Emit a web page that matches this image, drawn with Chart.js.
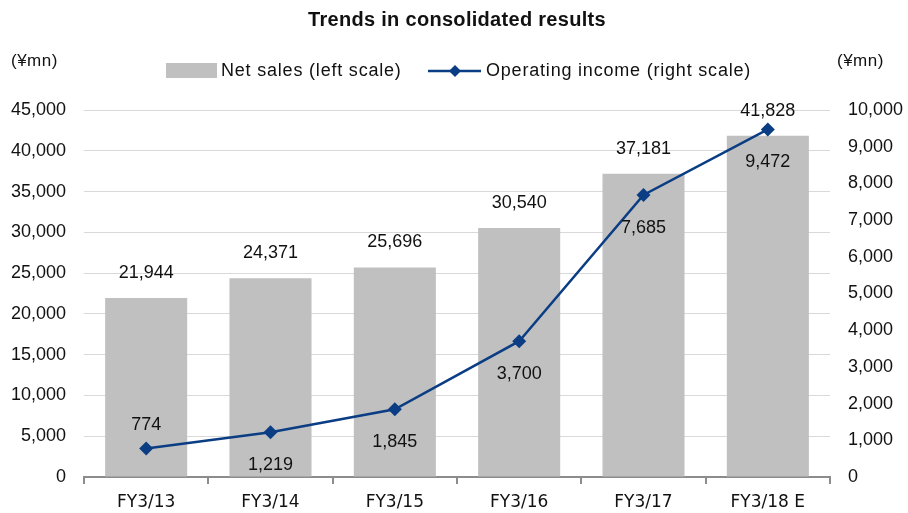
<!DOCTYPE html>
<html>
<head>
<meta charset="utf-8">
<script src="https://cdn.jsdelivr.net/npm/chart.js@4.4.1/dist/chart.umd.min.js"></script>
<style>
  html, body { margin: 0; padding: 0; background: #fff; }
  #wrap { width: 908px; height: 513px; }
</style>
</head>
<body>
<div id="wrap"><canvas id="myChart" width="908" height="513"></canvas></div>
<script>
const categories = ['FY3/13', 'FY3/14', 'FY3/15', 'FY3/16', 'FY3/17', 'FY3/18 E'];
const netSales = [21944, 24371, 25696, 30540, 37181, 41828];
const operatingIncome = [774, 1219, 1845, 3700, 7685, 9472];
// where each income label sits relative to its point
const incomeLabelSide = ['above', 'below', 'below', 'below', 'below', 'below'];

const barColor = '#c0c0c0';
const lineColor = '#0b3d84';
const fontFamily = "'Liberation Sans', Arial, sans-serif";

const fmt = v => v.toLocaleString('en-US');

const extras = {
  id: 'extras',
  afterDatasetsDraw(chart) {
    const c = chart.ctx;
    c.save();
    c.fillStyle = '#111';
    c.font = '18px ' + fontFamily;
    c.textAlign = 'center';
    c.textBaseline = 'middle';

    const barMeta = chart.getDatasetMeta(0);
    barMeta.data.forEach((el, i) => {
      c.fillText(fmt(netSales[i]), el.x, el.y - 25);
    });
    const lineMeta = chart.getDatasetMeta(1);
    lineMeta.data.forEach((el, i) => {
      const dy = incomeLabelSide[i] === 'above' ? -24 : 33;
      c.fillText(fmt(operatingIncome[i]), el.x, el.y + dy);
    });
    c.restore();
  },
  afterDraw(chart) {
    const c = chart.ctx;
    c.save();
    c.fillStyle = '#111';
    c.textBaseline = 'middle';

    // title
    c.font = 'bold 20px ' + fontFamily;
    c.letterSpacing = '0.3px';
    c.textAlign = 'center';
    c.fillText('Trends in consolidated results', 457, 20);

    // unit labels
    c.font = '17px ' + fontFamily;
    c.letterSpacing = '0.5px';
    c.textAlign = 'left';
    c.fillText('(¥mn)', 11, 61);
    c.fillText('(¥mn)', 837, 61);

    // legend
    c.font = '18px ' + fontFamily;
    c.letterSpacing = '0.8px';
    c.fillStyle = barColor;
    c.fillRect(166, 63, 51, 15);
    c.fillStyle = '#111';
    c.fillText('Net sales (left scale)', 221, 71);

    c.strokeStyle = lineColor;
    c.lineWidth = 2.5;
    c.beginPath();
    c.moveTo(428, 71);
    c.lineTo(481, 71);
    c.stroke();
    c.fillStyle = lineColor;
    c.beginPath();
    c.moveTo(455, 65);
    c.lineTo(461, 71);
    c.lineTo(455, 77);
    c.lineTo(449, 71);
    c.closePath();
    c.fill();
    c.fillStyle = '#111';
    c.fillText('Operating income (right scale)', 486, 71);
    c.restore();
  }
};

new Chart(document.getElementById('myChart'), {
  data: {
    labels: categories,
    datasets: [
      {
        type: 'bar',
        label: 'Net sales (left scale)',
        data: netSales,
        backgroundColor: barColor,
        yAxisID: 'y',
        categoryPercentage: 0.66,
        barPercentage: 1.0,
        order: 1
      },
      {
        type: 'line',
        label: 'Operating income (right scale)',
        data: operatingIncome,
        borderColor: lineColor,
        backgroundColor: lineColor,
        borderWidth: 2.5,
        pointStyle: 'rectRot',
        pointRadius: 7,
        pointHoverRadius: 7,
        pointBackgroundColor: lineColor,
        pointBorderWidth: 0,
        tension: 0,
        yAxisID: 'y1',
        order: 0
      }
    ]
  },
  options: {
    responsive: false,
    animation: false,
    maintainAspectRatio: false,
    layout: { padding: { top: 110, left: 0, right: 0, bottom: 0 } },
    plugins: {
      legend: { display: false },
      title: { display: false },
      tooltip: { enabled: false }
    },
    scales: {
      x: {
        offset: true,
        grid: {
          offset: true,
          drawOnChartArea: false,
          drawTicks: true,
          tickLength: 7,
          color: '#8c8c8c',
          lineWidth: 2
        },
        border: { display: true, color: '#8c8c8c', width: 2 },
        ticks: { color: '#111', font: { size: 17, family: "'DejaVu Sans', sans-serif" }, padding: 8 },
        afterFit(scale) { scale.height = 36; }
      },
      y: {
        position: 'left',
        min: 0,
        max: 45000,
        ticks: {
          stepSize: 5000,
          color: '#111',
          font: { size: 18, family: fontFamily },
          padding: 18,
          callback: v => fmt(v)
        },
        grid: { color: '#d9d9d9', lineWidth: 1, drawTicks: false },
        border: { display: false },
        afterFit(scale) { scale.width = 84; }
      },
      y1: {
        position: 'right',
        min: 0,
        max: 10000,
        ticks: {
          stepSize: 1000,
          color: '#111',
          font: { size: 18, family: fontFamily },
          padding: 18,
          callback: v => fmt(v)
        },
        grid: { drawOnChartArea: false, drawTicks: false },
        border: { display: false },
        afterFit(scale) { scale.width = 78; }
      }
    }
  },
  plugins: [extras]
});
</script>
</body>
</html>
